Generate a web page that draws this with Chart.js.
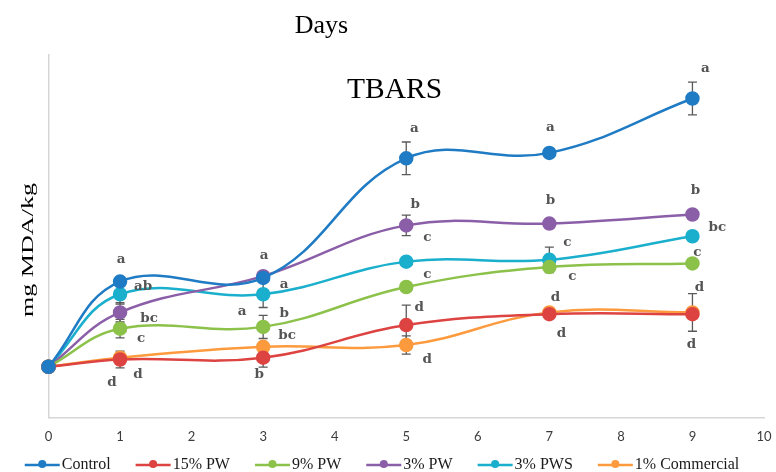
<!DOCTYPE html>
<html>
<head>
<meta charset="utf-8">
<script src="https://cdn.jsdelivr.net/npm/chart.js@4.4.1/dist/chart.umd.min.js"></script>
<style>
  html, body { margin: 0; padding: 0; background: #ffffff; }
  canvas { display: block; }
</style>
</head>
<body>
<canvas id="tbars" width="776" height="472"></canvas>
<script>
// Storage days
const days = [0, 1, 3, 5, 7, 9];

// Treatments
const seriesNames = ['Control', '15% PW', '9% PW', '3% PW', '3% PWS', '1% Commercial'];

// Mean TBARS (mg MDA/kg)
const control    = [0.28, 0.75, 0.77, 1.43, 1.46, 1.76];
const pw15       = [0.28, 0.32, 0.33, 0.51, 0.57, 0.57];
const pw9        = [0.28, 0.49, 0.50, 0.72, 0.83, 0.85];
const pw3        = [0.28, 0.58, 0.78, 1.06, 1.07, 1.12];
const pws3       = [0.28, 0.68, 0.68, 0.86, 0.87, 1.00];
const commercial = [0.28, 0.33, 0.39, 0.40, 0.58, 0.58];

// Standard deviations (null: no bar)
const controlSd    = [null, null, null, 0.09, null, 0.09];
const pw15Sd       = [null, 0.046, 0.052, 0.11, null, null];
const pw9Sd        = [null, 0.051, 0.064, null, null, null];
const pw3Sd        = [null, 0.053, null, 0.057, null, null];
const pws3Sd       = [null, 0.055, 0.073, null, 0.07, null];
const commercialSd = [null, null, null, 0.05, null, 0.104];

// Significance letters
const controlLetters    = ['', 'a', 'a', 'a', 'a', 'a'];
const pw15Letters       = ['', 'd', 'b', 'd', 'd', 'd'];
const pw9Letters        = ['', 'c', 'b', 'c', 'c', 'c'];
const pw3Letters        = ['', 'bc', 'a', 'b', 'b', 'b'];
const pws3Letters       = ['', 'ab', 'a', 'c', 'c', 'bc'];
const commercialLetters = ['', 'd', 'bc', 'd', 'd', 'd'];

// X tick labels
const xTicks = [0, 1, 2, 3, 4, 5, 6, 7, 8, 9, 10];

// ---- styling / layout ----
const colors = ['#1f7bc4', '#dc4341', '#8cc14a', '#8b5ea8', '#1aafcc', '#fd9a3d'];

// Pixel offsets of each letter from its point [dx, dy]
const letterOffsets = [
  [null, [1, -22], [1, -22], [8, -30], [1, -25], [13, -30]],
  [null, [18, 15], [-4, 17], [13, -18], [12, 19], [-1, 30]],
  [null, [21, 10], [21, -13], [21, -13], [23, 9], [5, -11]],
  [null, [29, 6], [-21, 35], [9, -21], [1, -23], [3, -24]],
  [null, [23, -8], [21, -10], [21, -24], [18, -17], [25, -9]],
  [null, [-8, 25], [24, -11], [21, 14], [6, -15], [7, -25]]
];

const values  = [control, pw15, pw9, pw3, pws3, commercial];
const sds     = [controlSd, pw15Sd, pw9Sd, pw3Sd, pws3Sd, commercialSd];
const letters = [controlLetters, pw15Letters, pw9Letters, pw3Letters, pws3Letters, commercialLetters];

const SERIF = '"Liberation Serif", "Times New Roman", serif';

// Error bars, drawn beneath the lines
const errorBars = {
  id: 'errorBars',
  beforeDatasetsDraw(chart) {
    const ctx = chart.ctx;
    const y = chart.scales.y;
    ctx.save();
    ctx.strokeStyle = '#5a5a5a';
    ctx.lineWidth = 1.3;
    chart.data.datasets.forEach((ds, i) => {
      const meta = chart.getDatasetMeta(i);
      sds[i].forEach((sd, j) => {
        if (sd == null) return;
        const px = meta.data[j].x;
        const top = y.getPixelForValue(values[i][j] + sd);
        const bot = y.getPixelForValue(values[i][j] - sd);
        ctx.beginPath();
        ctx.moveTo(px, top); ctx.lineTo(px, bot);
        ctx.moveTo(px - 4.5, top); ctx.lineTo(px + 4.5, top);
        ctx.moveTo(px - 4.5, bot); ctx.lineTo(px + 4.5, bot);
        ctx.stroke();
      });
    });
    ctx.restore();
  }
};

// Significance letters beside the points
const letterLabels = {
  id: 'letterLabels',
  afterDatasetsDraw(chart) {
    const ctx = chart.ctx;
    ctx.save();
    ctx.font = 'bold 13.5px "DejaVu Serif", serif';
    ctx.fillStyle = '#555555';
    ctx.textAlign = 'center';
    ctx.textBaseline = 'middle';
    chart.data.datasets.forEach((ds, i) => {
      const meta = chart.getDatasetMeta(i);
      letters[i].forEach((txt, j) => {
        const off = letterOffsets[i][j];
        if (!txt || !off) return;
        ctx.fillText(txt, meta.data[j].x + off[0], meta.data[j].y + off[1]);
      });
    });
    ctx.restore();
  }
};

// Titles, axis name and legend
const annotations = {
  id: 'annotations',
  afterDraw(chart) {
    const ctx = chart.ctx;
    ctx.save();
    ctx.fillStyle = '#000000';
    ctx.textAlign = 'center';
    ctx.textBaseline = 'alphabetic';

    ctx.font = '26px ' + SERIF;
    ctx.fillText('Days', 321.5, 33);

    ctx.font = '29.5px ' + SERIF;
    ctx.fillText('TBARS', 394.5, 98);

    // vertical axis name
    ctx.font = '17px ' + SERIF;
    const yName = 'mg MDA/kg';
    const w = ctx.measureText(yName).width;
    ctx.save();
    ctx.translate(32.5, 250);
    ctx.rotate(-Math.PI / 2);
    ctx.scale(134 / w, 1);
    ctx.fillText(yName, 0, 0);
    ctx.restore();

    // legend
    ctx.font = '16px ' + SERIF;
    ctx.textAlign = 'left';
    ctx.textBaseline = 'middle';
    const markerW = 35, textGap = 2, itemGap = 25, ly = 465;
    const widths = chart.data.datasets.map(ds => ctx.measureText(ds.label).width);
    const total = widths.reduce((s, tw) => s + markerW + textGap + tw, 0) + itemGap * (widths.length - 1);
    let x = 382 - total / 2;
    chart.data.datasets.forEach((ds, i) => {
      ctx.strokeStyle = ds.borderColor;
      ctx.fillStyle = ds.borderColor;
      ctx.lineWidth = 2.5;
      ctx.beginPath();
      ctx.moveTo(x, ly); ctx.lineTo(x + markerW, ly);
      ctx.stroke();
      ctx.beginPath();
      ctx.arc(x + markerW / 2, ly - 1, 4, 0, Math.PI * 2);
      ctx.fill();
      ctx.fillStyle = '#1a1a1a';
      ctx.fillText(ds.label, x + markerW + textGap, ly);
      x += markerW + textGap + widths[i] + itemGap;
    });
    ctx.restore();
  }
};

const datasets = seriesNames.map((name, i) => ({
  label: name,
  data: days.map((d, j) => ({ x: d, y: values[i][j] })),
  borderColor: colors[i],
  backgroundColor: colors[i],
  pointBackgroundColor: colors[i],
  pointBorderColor: colors[i],
  borderWidth: 2.5,
  pointRadius: 6,
  pointHoverRadius: 6,
  tension: 0.4,
  clip: false
}));

new Chart(document.getElementById('tbars'), {
  type: 'line',
  data: { datasets },
  plugins: [errorBars, letterLabels, annotations],
  options: {
    responsive: false,
    animation: false,
    devicePixelRatio: 1,
    layout: { padding: { left: 0, right: 12, top: 55, bottom: 24.5 } },
    plugins: {
      legend: { display: false },
      title: { display: false },
      tooltip: { enabled: false }
    },
    scales: {
      x: {
        type: 'linear',
        min: 0,
        max: 10,
        afterFit(scale) {
          scale.height = 30;
          scale.paddingLeft = 0;
          scale.paddingRight = 0;
        },
        afterBuildTicks(scale) { scale.ticks = xTicks.map(v => ({ value: v })); },
        grid: { display: false, drawTicks: false },
        border: { display: true, color: '#d6d6d6', width: 1.5 },
        ticks: {
          padding: 12,
          color: '#3c3c3c',
          font: { family: 'Lato', size: 13 },
          maxRotation: 0,
          autoSkip: false
        }
      },
      y: {
        min: 0,
        max: 2,
        afterFit(scale) { scale.width = 48.5; },
        grid: { display: false, drawTicks: false },
        border: { display: true, color: '#d6d6d6', width: 1.5 },
        ticks: { display: false }
      }
    }
  }
});
</script>
</body>
</html>
